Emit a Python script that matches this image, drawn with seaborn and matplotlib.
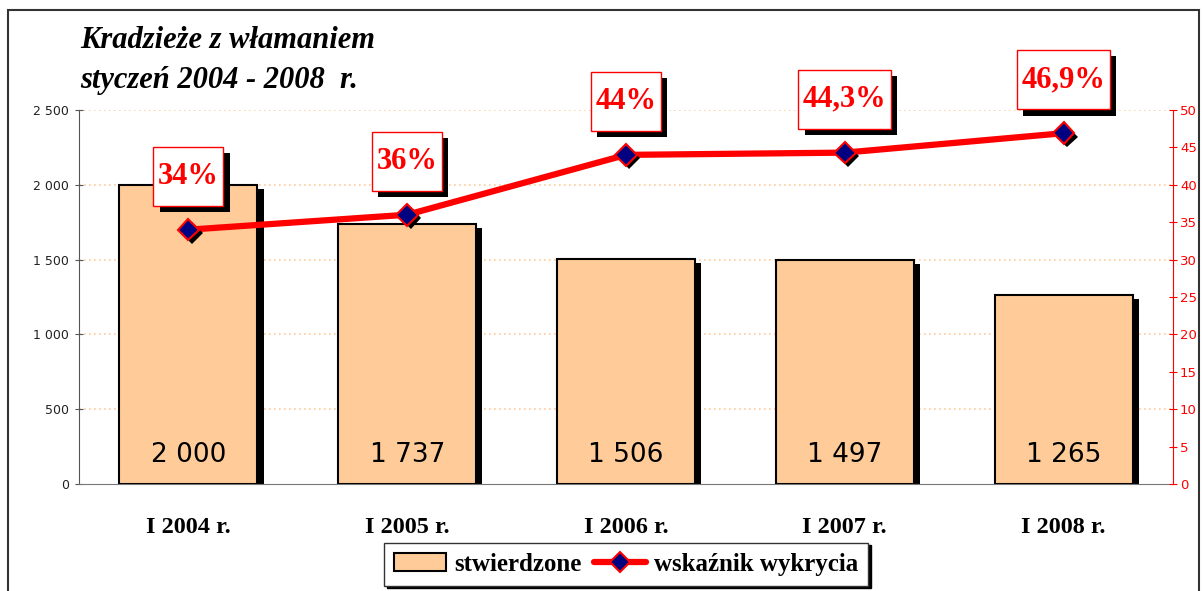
import matplotlib
matplotlib.use("Agg")
import matplotlib.pyplot as plt
import matplotlib.patheffects as pe
from matplotlib.patches import Patch, Rectangle
from matplotlib.lines import Line2D
import seaborn as sns
import pandas as pd

# data
categories = ["I 2004 r.", "I 2005 r.", "I 2006 r.", "I 2007 r.", "I 2008 r."]
stwierdzone = [2000, 1737, 1506, 1497, 1265]
wskaznik = [34, 36, 44, 44.3, 46.9]
bar_labels = ["2 000", "1 737", "1 506", "1 497", "1 265"]
rate_labels = ["34%", "36%", "44%", "44,3%", "46,9%"]
left_ticks = [0, 500, 1000, 1500, 2000, 2500]
left_ticklabels = ["0", "500", "1 000", "1 500", "2 000", "2 500"]

BAR = "#FFCC99"
RED = "#FF0000"
NAVY = "#000080"
SERIF = ["Liberation Serif", "DejaVu Serif"]

sns.set_style("white")
plt.rcParams["font.family"] = ["DejaVu Sans"]
plt.rcParams["text.color"] = "black"

df = pd.DataFrame({"okres": categories, "stwierdzone": stwierdzone})

fig = plt.figure(figsize=(12.02, 5.91), dpi=100)
ax = fig.add_axes([79 / 1202, 1 - 484 / 591, (1173 - 79) / 1202, 374 / 591])

sns.barplot(data=df, x="okres", y="stwierdzone", color=BAR, saturation=1,
            edgecolor="black", linewidth=1.5, width=0.63, ax=ax, zorder=2)
for bar in ax.patches:
    bar.set_path_effects([pe.SimplePatchShadow(offset=(4.5, -3), shadow_rgbFace="black", alpha=1),
                          pe.Normal()])

for i, lab in enumerate(bar_labels):
    ax.text(i, 195, lab, ha="center", va="center", fontsize=19, color="black", zorder=5)

ax.set_ylim(0, 2500)
ax.set_xlim(-0.5, 4.5)
ax.set_yticks(left_ticks)
ax.set_yticklabels(left_ticklabels, fontsize=9, color="#222222")
ax.set_xlabel("")
ax.set_ylabel("")
ax.set_xticks(range(5))
ax.set_xticklabels(categories, fontsize=17.5, fontweight="bold", family=SERIF, color="black")
ax.tick_params(axis="x", which="major", length=0, pad=24)
ax.set_xticks([0.5, 1.5, 2.5, 3.5, 4.5], minor=True)
ax.tick_params(axis="x", which="minor", length=8, direction="inout", color="#555555")
ax.tick_params(axis="y", length=6, direction="inout", color="#555555", pad=4)
for y in left_ticks[1:]:
    ax.axhline(y, color="#FFCC99", lw=1.2, ls=(0, (1, 2)), zorder=0)
for s in ["top", "right"]:
    ax.spines[s].set_visible(False)
ax.spines["left"].set_color("#555555")
ax.spines["bottom"].set_color("#777777")

ax2 = ax.twinx()
ax2.plot(range(5), wskaznik, color=RED, lw=4.5, zorder=3, solid_capstyle="butt")
mk = ax2.plot(range(5), wskaznik, ls="none", marker="D", ms=11, mfc=NAVY, mec=RED, mew=1.5, zorder=4)[0]
mk.set_path_effects([pe.SimplePatchShadow(offset=(2.5, -2.5), shadow_rgbFace="black", alpha=1), pe.Normal()])
ax2.set_ylim(0, 50)
ax2.set_yticks(range(0, 51, 5))
ax2.tick_params(axis="y", colors=RED, labelsize=9.5, length=6, direction="inout", pad=2)
for s in ["top", "left", "bottom"]:
    ax2.spines[s].set_visible(False)
ax2.spines["right"].set_color(RED)

for i, (v, lab) in enumerate(zip(wskaznik, rate_labels)):
    t = ax2.annotate(lab, (i, v), xytext=(0, 38.5), textcoords="offset points",
                     ha="center", va="center", fontsize=22, fontweight="bold",
                     family=SERIF, color=RED, zorder=6,
                     bbox=dict(boxstyle="square,pad=0.15", fc="white", ec=RED, lw=1,
                               mutation_aspect=3.3))
    t.get_bbox_patch().set_path_effects(
        [pe.SimplePatchShadow(offset=(4.5, -4.5), shadow_rgbFace="black", alpha=1), pe.Normal()])

handles = [Patch(facecolor=BAR, edgecolor="black", lw=1.5),
           Line2D([], [], color=RED, lw=4.5, marker="D", ms=10, mfc=NAVY, mec=RED, mew=1.5)]
leg = ax.legend(handles, ["stwierdzone", "wskaźnik wykrycia"], loc="center",
                bbox_to_anchor=(0.5, -0.214), ncol=2, frameon=True, fancybox=False,
                prop={"family": SERIF, "size": 18, "weight": "bold"}, handlelength=2.1,
                handletextpad=0.3, columnspacing=0.5, borderpad=0.4, borderaxespad=0,
                edgecolor="#333333", shadow={"color": "black", "alpha": 1})
leg.get_frame().set_linewidth(1)

fig.text(80 / 1202, 1 - 26 / 591, "Kradzieże z włamaniem\nstyczeń 2004 - 2008  r.",
         ha="left", va="top", fontsize=22, style="italic", fontweight="bold",
         family=SERIF, linespacing=1.5, color="black")

fig.add_artist(Rectangle((8 / 1202, -0.05), (1199 - 8) / 1202, 1 - 10 / 591 + 0.05,
                         transform=fig.transFigure, fill=False, ec="#333333", lw=1.5))

fig.savefig("out.png", dpi=100)
